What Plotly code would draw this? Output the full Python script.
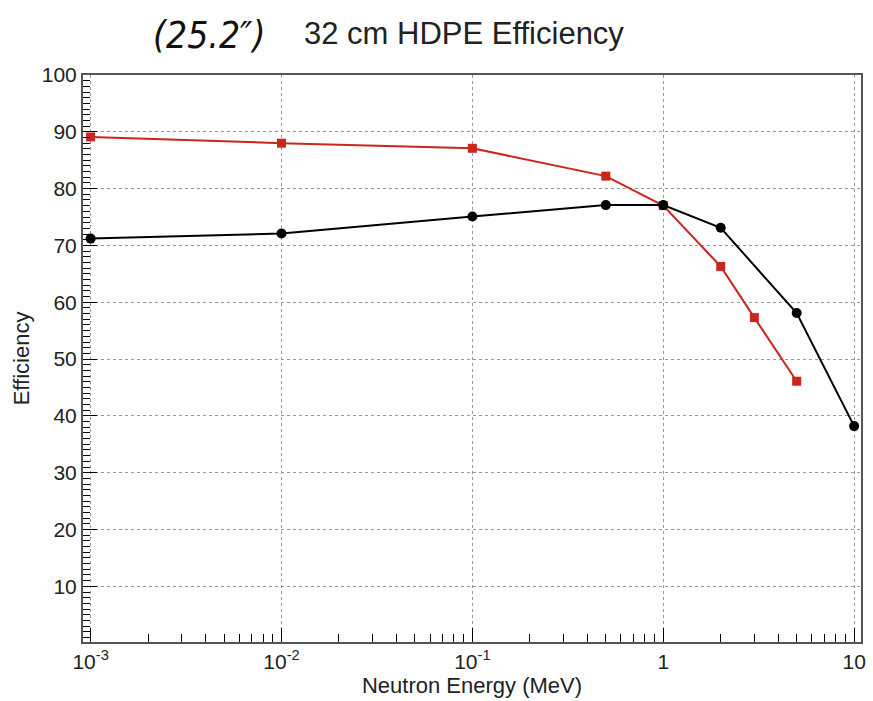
import plotly.graph_objects as go

red_energy = [0.001, 0.01, 0.1, 0.5, 1, 2, 3, 5]
red_eff = [89.1, 88.0, 87.1, 82.2, 77.0, 66.3, 57.3, 46.1]
black_energy = [0.001, 0.01, 0.1, 0.5, 1, 2, 5, 10]
black_eff = [71.2, 72.1, 75.1, 77.1, 77.1, 73.1, 58.1, 38.2]

x_tickvals = [0.001, 0.01, 0.1, 1, 10]
x_ticktext = ["10<sup>-3</sup>", "10<sup>-2</sup>", "10<sup>-1</sup>", "1", "10"]
y_tickvals = [10, 20, 30, 40, 50, 60, 70, 80, 90, 100]

fig = go.Figure()
fig.add_trace(go.Scatter(x=red_energy, y=red_eff, mode="lines+markers",
                         line=dict(color="#c9261c", width=2),
                         marker=dict(symbol="square", size=9, color="#c9261c"),
                         showlegend=False))
fig.add_trace(go.Scatter(x=black_energy, y=black_eff, mode="lines+markers",
                         line=dict(color="black", width=2),
                         marker=dict(symbol="circle", size=10, color="black"),
                         showlegend=False))

font_main = "Liberation Sans, Arial, sans-serif"
fig.update_layout(
    width=873, height=701,
    margin=dict(l=83, r=7, t=75, b=59),
    paper_bgcolor="white", plot_bgcolor="white",
    font=dict(family=font_main, color="#222"),
    xaxis=dict(type="log", range=[-3.04, 1.036],
               tickvals=x_tickvals, ticktext=x_ticktext,
               tickfont=dict(size=21), ticks="inside", ticklen=14, tickwidth=1,
               tickcolor="black",
               showgrid=True, gridcolor="#999", griddash="dot", gridwidth=1,
               showline=True, linecolor="#555", linewidth=2, mirror=True,
               zeroline=False,
               minor=dict(ticks="inside", ticklen=8, tickcolor="black",
                          dtick="D1", showgrid=False),
               title=dict(text="Neutron Energy (MeV)", font=dict(size=22), standoff=0)),
    yaxis=dict(range=[0.2, 100], tickvals=y_tickvals,
               tickfont=dict(size=21), ticks="inside", ticklen=14, tickwidth=1,
               tickcolor="black",
               showgrid=True, gridcolor="#999", griddash="dot", gridwidth=1,
               showline=True, linecolor="#555", linewidth=2, mirror=True,
               zeroline=False,
               minor=dict(ticks="inside", ticklen=7, tickcolor="black",
                          dtick=1, showgrid=False),
               title=dict(text="Efficiency", font=dict(size=22), standoff=6)),
    annotations=[
        dict(text="32 cm HDPE Efficiency", xref="paper", yref="paper",
             x=0.49, y=1.074, xanchor="center", yanchor="middle",
             showarrow=False, font=dict(size=31, color="#222", family=font_main)),
        dict(text="<i>(25.2″)</i>", xref="paper", yref="paper",
             x=0.163, y=1.07, xanchor="center", yanchor="middle",
             showarrow=False,
             font=dict(size=37, color="#111",
                       family="Liberation Sans Narrow, DejaVu Sans Condensed, sans-serif")),
    ],
)

fig.write_html("out.html")
